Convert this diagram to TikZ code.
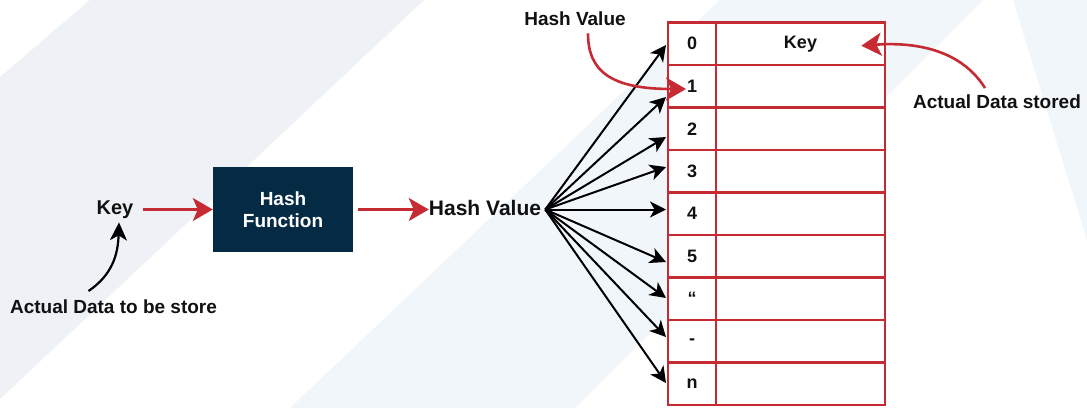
\documentclass[tikz,border=0pt]{standalone}
\usepackage{fontspec}
\setmainfont{Liberation Sans}
\usetikzlibrary{arrows.meta}
\definecolor{hashred}{HTML}{C62A32}
\definecolor{navy}{HTML}{052A44}
\definecolor{bandgray}{HTML}{EEF2F6}
\definecolor{bandblue}{HTML}{F1F6FB}
\definecolor{ink}{HTML}{111111}
\begin{document}
\begin{tikzpicture}[x=1pt,y=-1pt,
  lbl/.style={font=\fontsize{19}{22}\selectfont\bfseries, text=ink, inner sep=0pt, anchor=base},
  cellbox/.style={draw=hashred, fill=white, line width=2.6pt, minimum height=42.5pt,
    inner sep=0pt, font=\fontsize{18}{21}\selectfont\bfseries, text=ink},
  redarrow/.style={draw=hashred, line width=2.6pt, -{Stealth[length=20pt,width=23pt,inset=5pt]}},
  fanarrow/.style={draw=black, line width=2pt, -{Stealth[length=16pt,width=16pt,inset=4.5pt]}},
  blackcurve/.style={draw=black, line width=2.2pt, -{Stealth[length=18pt,width=17pt,inset=5pt]}},
]
\useasboundingbox (0,0) rectangle (1087,408);
\fill[white] (0,0) rectangle (1087,408);

% soft diagonal background bands
\fill[bandgray] (90,0) -- (424,0) -- (0,399) -- (0,77) -- cycle;
\fill[bandblue] (720,0) -- (983,0) -- (575,408) -- (290,408) -- cycle;
\fill[bandblue] (1013,0) -- (1087,0) -- (1087,240) -- cycle;

% hash table: index column and data column
\foreach \lab [count=\n from 0] in {0,1,2,3,4,5,“,-,n} {
  \node[cellbox, minimum width=48pt] (idx\n) at (692,43.75+42.5*\n) {\lab};
  \node[cellbox, minimum width=169pt] (dat\n) at (800.5,43.75+42.5*\n) {};
}
\node[font=\fontsize{18}{21}\selectfont\bfseries, text=ink] (storedkey) at (dat0) {Key};

% left part: key, hash function, hash value
\node[lbl, font=\fontsize{20}{22}\selectfont\bfseries] (key) at (115,214) {Key};
\node[fill=navy, text=white, minimum width=140pt, minimum height=85pt, align=center,
      font=\fontsize{19}{22}\selectfont\bfseries] (hf) at (283,209.5) {Hash\\Function};
\node[lbl, font=\fontsize{21}{24}\selectfont\bfseries] (hv) at (485,215.5) {Hash Value};
\node[lbl] (src) at (113.5,313) {Actual Data to be store};
\node[lbl] (hvtop) at (575,25) {Hash Value};
\node[lbl] (ads) at (997,108) {Actual Data stored};

\draw[redarrow, shorten <=9pt] (key.east |- hf) -- (hf.west);
\draw[redarrow, shorten <=5pt] (hf.east) -- (hv.west |- hf);

% fan of arrows from the hash value to the slots
\coordinate (fan) at ([xshift=4pt]hv.east |- hf);
\foreach \n/\ty in {0/45,1/97,2/137,3/167,4/209.5,5/262,6/298,7/337,8/383} {
  \coordinate (tip\n) at (666,\ty);
  \draw[fanarrow] (fan) -- (tip\n);
}

% annotation curves
\draw[blackcurve] ([shift={(-25pt,8pt)}]src.north) .. controls (112,275) and (118,255) .. ([shift={(4pt,-4pt)}]key.south);
\coordinate (onetip) at (686,89);
\draw[redarrow] ([shift={(13pt,-8pt)}]hvtop.south) .. controls (588,72) and (612,89) .. (onetip);
\draw[redarrow] ([shift={(-12pt,6pt)}]ads.north) .. controls (960,48) and (912,42) .. ([shift={(-25pt,-2pt)}]dat0.east);
\end{tikzpicture}
\end{document}
